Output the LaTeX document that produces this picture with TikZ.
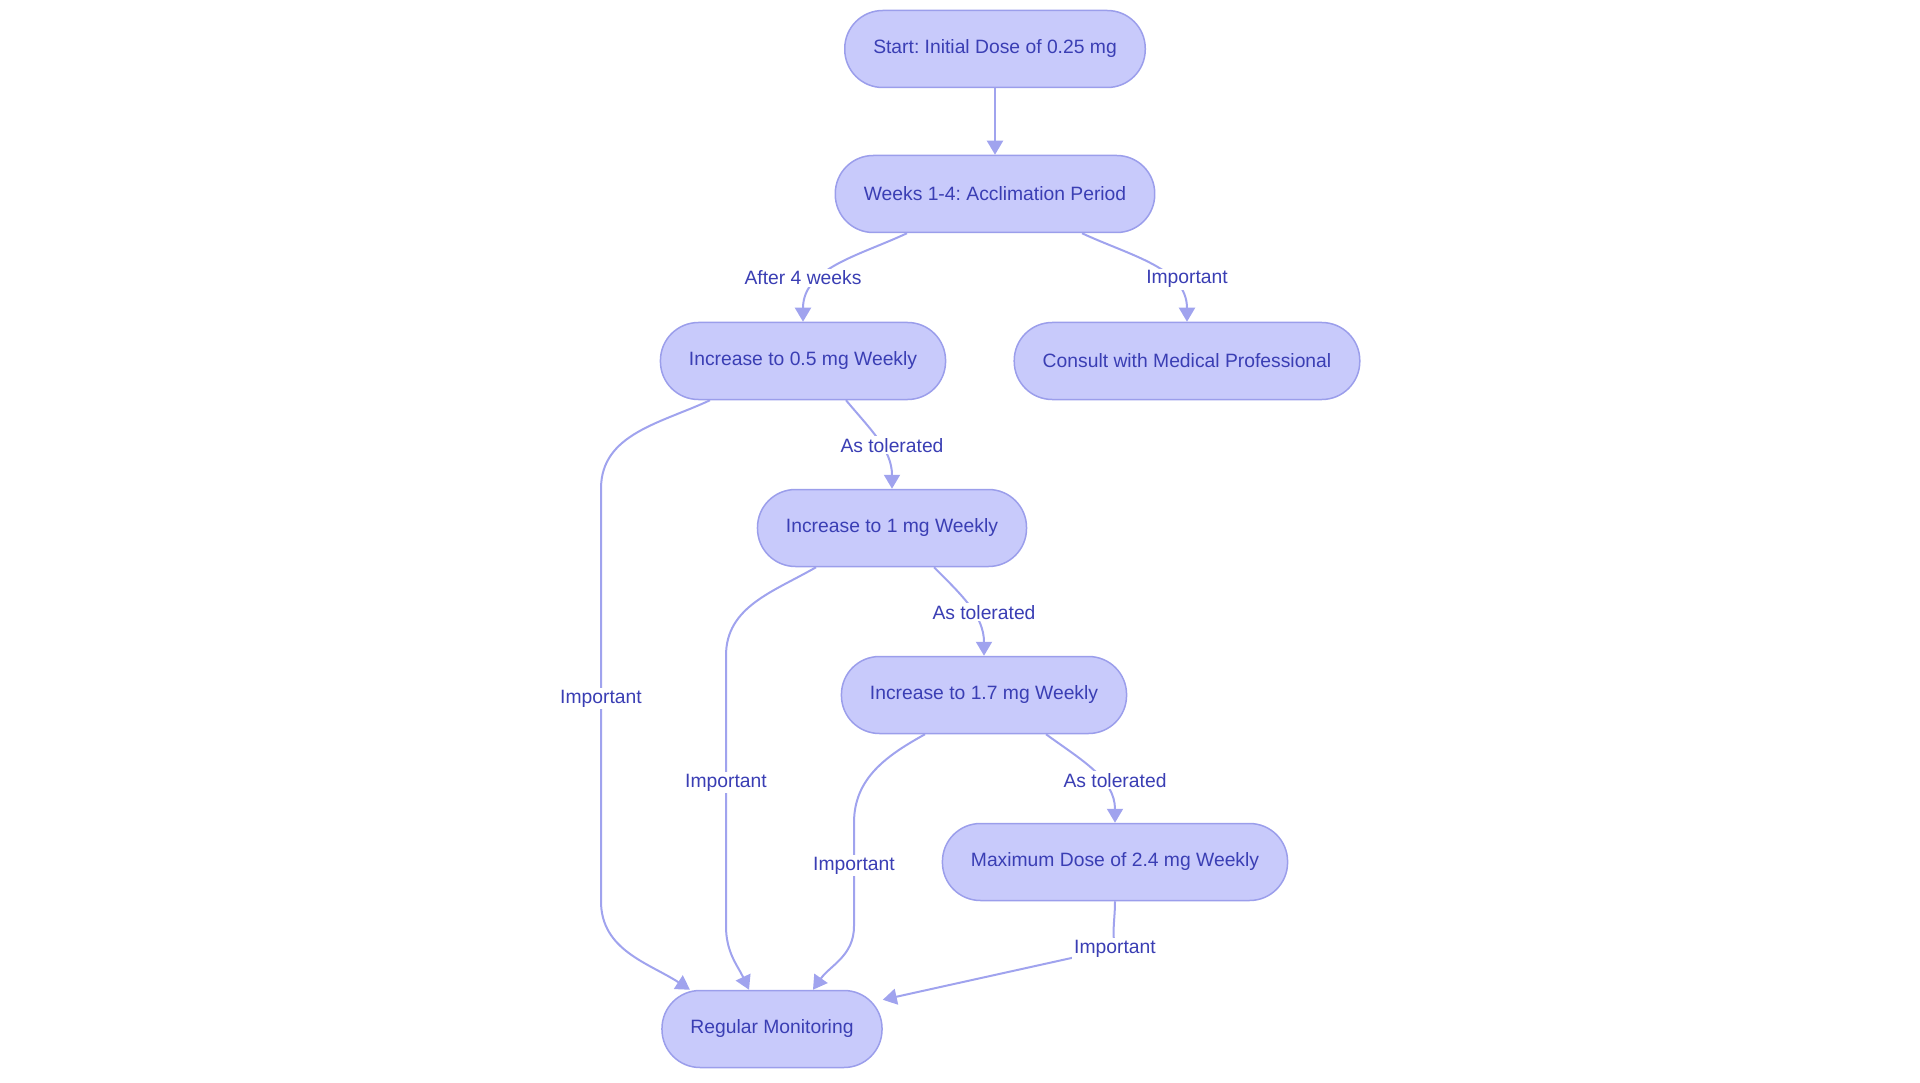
\documentclass[tikz,border=0pt]{standalone}
\usepackage{fontspec}
\setmainfont{Liberation Sans}
\frenchspacing
\usetikzlibrary{arrows.meta, positioning, calc}
\tikzset{
  stage/.style={rectangle,rounded corners=38pt,draw=doserim,line width=1.5pt,fill=doselilac,text=doseink,minimum height=77pt,inner xsep=28.5pt,font=\fontsize{19.3}{23}\selectfont},
  tag/.style={fill=white,text=doseink,inner sep=2pt,anchor=base,font=\fontsize{19.3}{23}\selectfont},
  link/.style={draw=dosewire,line width=2pt,-{Triangle[length=14pt,width=16pt]}},
}
\pgfdeclarelayer{back}
\pgfsetlayers{back,main}
\definecolor{dose_lilac}{HTML}{C8CAFB}
\definecolor{dose_rim}{HTML}{9B9EEB}
\definecolor{dose_ink}{HTML}{3A3EB4}
\definecolor{dose_wire}{HTML}{A0A3EE}
\colorlet{doselilac}{dose_lilac}
\colorlet{doserim}{dose_rim}
\colorlet{doseink}{dose_ink}
\colorlet{dosewire}{dose_wire}

\begin{document}
\begin{tikzpicture}[x=1pt,y=1pt]
	\useasboundingbox (0,0) rectangle (1920,-1083);
	\node[stage] (A) at (995,-49) {Start: Initial Dose of 0.25 mg};
	\node[stage,below=66.5pt of A] (B) {Weeks 1-4: Acclimation Period};
	\node[stage,below=88.5pt of B,xshift=-192pt] (C) {Increase to 0.5 mg Weekly};
	\node[stage,below=88.5pt of B,xshift=192pt] (D) {Consult with Medical Professional};
	\node[stage,below=88.5pt of C,xshift=89pt] (E) {Increase to 1 mg Weekly};
	\node[stage,below=88.5pt of E,xshift=92pt] (F) {Increase to 1.7 mg Weekly};
	\node[stage,below=88.5pt of F,xshift=131pt] (G) {Maximum Dose of 2.4 mg Weekly};
	\node[stage,below=88.5pt of G,xshift=-343pt] (H) {Regular Monitoring};
	\node[tag] (t1) at (803,-285) {After 4 weeks};
	\node[tag] (t2) at (1187,-284) {Important};
	\node[tag] (t3) at (892,-452) {As tolerated};
	\node[tag] (t4) at (601,-703) {Important};
	\node[tag] (t5) at (984,-619) {As tolerated};
	\node[tag] (t6) at (726,-787) {Important};
	\node[tag] (t7) at (1115,-787) {As tolerated};
	\node[tag] (t8) at (854,-870) {Important};
	\node[tag] (t9) at (1115,-953) {Important};
	\begin{pgfonlayer}{back}
	\draw[link] (A) -- (B);
	\draw[link] ([xshift=-88pt]B.south) to[out=205,in=90] (C.north);
	\draw[link] ([xshift=87pt]B.south) to[out=-25,in=90] (D.north);
	\draw[link] ([xshift=43pt]C.south) to[out=-50,in=90] (E.north);
	\draw[link] ([xshift=42pt]E.south) to[out=-45,in=90] (F.north);
	\draw[link] ([xshift=62pt]F.south) to[out=-36,in=90] (G.north);
	\draw[link] ([xshift=-93pt]C.south) to[out=205,in=90] (t4 |- E.north) -- (t4 |- G.south) to[out=-90,in=147] ([xshift=-82pt]H.north);
	\draw[link] ([xshift=-76pt]E.south) to[out=210,in=90] (t6 |- F.north) -- ($(t6 |- G.south)+(0,-25)$) to[out=-90,in=115] ([xshift=-23pt]H.north);
	\draw[link] ([xshift=-59pt]F.south) to[out=209,in=90] (t8 |- G.north) -- ($(t8 |- G.south)+(0,-25)$) to[out=-90,in=55] ([xshift=41pt]H.north);
	\draw[link] (G.south) to[out=-90,in=100] (t9.center) -- ([yshift=-10pt]H.north east);
	\end{pgfonlayer}
\end{tikzpicture}
\end{document}
